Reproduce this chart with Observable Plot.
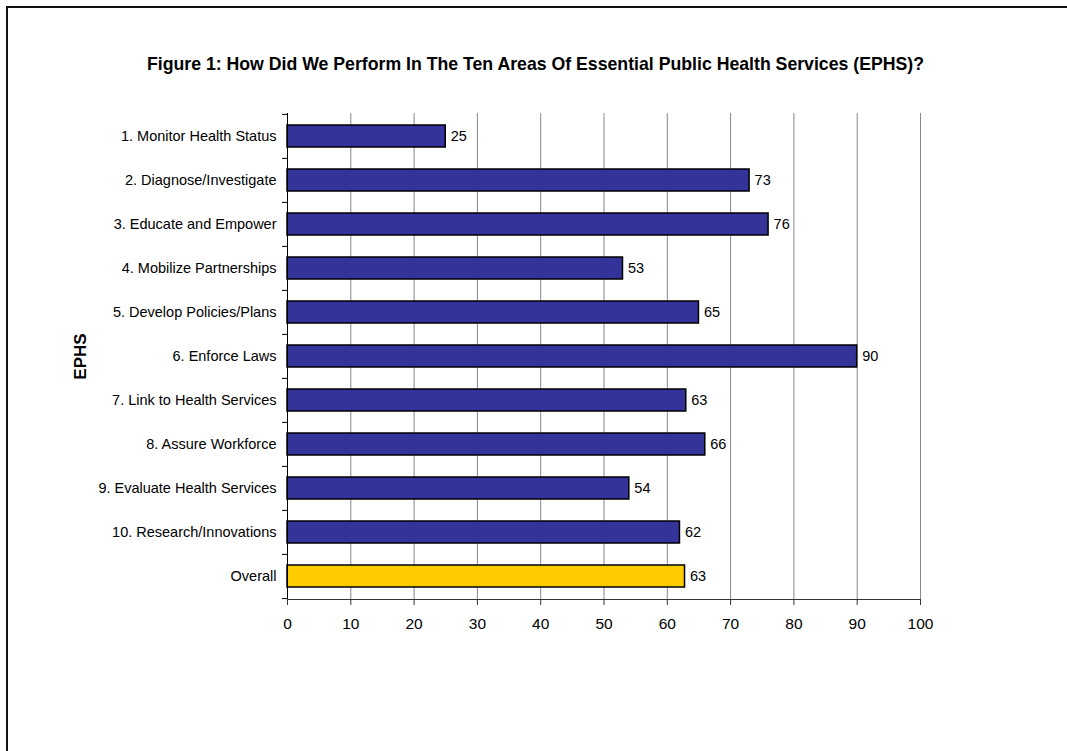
<!DOCTYPE html>
<html>
<head>
<meta charset="utf-8">
<script src="https://cdn.jsdelivr.net/npm/d3@7"></script>
<script src="https://cdn.jsdelivr.net/npm/@observablehq/plot@0.6"></script>
<style>
  html, body { margin: 0; padding: 0; background: #fff; overflow: hidden; }
  body { width: 1067px; height: 751px; position: relative; font-family: "Liberation Sans", Arial, sans-serif; }
  #frame { position: absolute; left: 6px; top: 6px; width: 1080px; height: 760px; border-top: 2px solid #111; border-left: 2px solid #111; }
  #title { position: absolute; left: 2px; top: 54px; width: 1067px; text-align: center; font-weight: bold; font-size: 17.7px; color: #000; }
  #chart { position: absolute; left: 0; top: 0; }
</style>
</head>
<body>
<div id="frame"></div>
<div id="chart"></div>
<div id="title">Figure 1: How Did We Perform In The Ten Areas Of Essential Public Health Services (EPHS)?</div>
<script>
const categories = [
  "1. Monitor Health Status",
  "2. Diagnose/Investigate",
  "3. Educate and Empower",
  "4. Mobilize Partnerships",
  "5. Develop Policies/Plans",
  "6. Enforce Laws",
  "7. Link to Health Services",
  "8. Assure Workforce",
  "9. Evaluate Health Services",
  "10. Research/Innovations",
  "Overall"
];
const values = [25, 73, 76, 53, 65, 90, 63, 66, 54, 62, 62.8];
const valueLabels = ["25", "73", "76", "53", "65", "90", "63", "66", "54", "62", "63"];
const xTicks = [0, 10, 20, 30, 40, 50, 60, 70, 80, 90, 100];
const axisTitle = "EPHS";

const data = categories.map((name, i) => ({name, value: values[i], label: valueLabels[i]}));

const W = 1067, H = 751;
const mL = 287, mR = 147, mT = 113, mB = 152;
const step = (H - mT - mB) / categories.length;
const font = "Liberation Sans, Arial, sans-serif";

const chart = Plot.plot({
  width: W,
  height: H,
  marginLeft: mL,
  marginRight: mR,
  marginTop: mT,
  marginBottom: mB,
  style: {fontFamily: font, fontSize: "14.5px", color: "#000", background: "transparent"},
  x: {domain: [0, 100]},
  y: {domain: categories, paddingInner: 0.5, paddingOuter: 0.25},
  marks: [
    Plot.gridX(xTicks.slice(1), {stroke: "#888", strokeOpacity: 1, strokeWidth: 1}),
    Plot.barX(data, {
      x: "value", y: "name",
      fill: d => d.name === "Overall" ? "#FFCC00" : "#333399",
      stroke: "#000", strokeWidth: 1.5
    }),
    Plot.text(data, {x: "value", y: "name", text: "label", textAnchor: "start", dx: 5, fontSize: 14.5, fill: "#000"}),
    Plot.frame({anchor: "left", stroke: "#000", strokeWidth: 1}),
    Plot.frame({anchor: "bottom", stroke: "#333", strokeWidth: 1}),
    Plot.axisY({tickSize: 0, tickPadding: 11, fontSize: 14.5, label: null}),
    Plot.axisY(categories, {tickSize: 5, text: null, dy: -step / 2, label: null, stroke: "#000"}),
    Plot.axisY([categories[categories.length - 1]], {tickSize: 5, text: null, dy: step / 2, label: null, stroke: "#000"}),
    Plot.axisX(xTicks, {tickSize: 6, tickPadding: 12, fontSize: 15.5, label: null, stroke: "#333"}),
    Plot.text([axisTitle], {frameAnchor: "left", dx: -207, rotate: -90, textAnchor: "middle", lineAnchor: "middle", fontWeight: "bold", fontSize: 17, fill: "#000"})
  ]
});
document.getElementById("chart").appendChild(chart);
</script>
</body>
</html>
